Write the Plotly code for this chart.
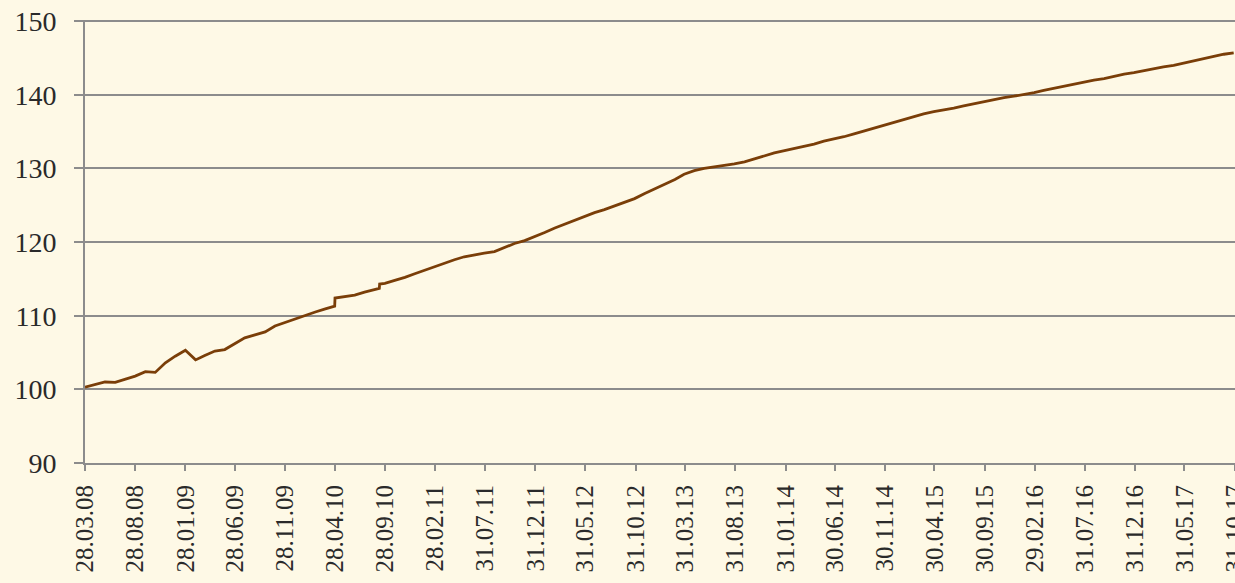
import pandas as pd
import plotly.graph_objects as go

# monthly index values (Mar 2008 .. Oct 2017)
months = pd.date_range("2008-03-01", periods=116, freq="MS") + pd.Timedelta(days=27)
index_vals = [
    100.3, 100.7, 101.0, 100.95, 101.4, 101.8, 102.4, 102.3, 103.6, 104.5,
    105.3, 104.0, 104.6, 105.2, 105.4, 106.2, 107.0, 107.4, 107.8, 108.6,
    109.1, 109.5, 110.0, 110.5, 110.9, 111.3, 112.6, 112.8, 113.2, 113.5,
    114.4, 114.8, 115.2, 115.7, 116.2, 116.7, 117.1, 117.6, 118.0, 118.3,
    118.5, 118.7, 119.3, 119.8, 120.2, 120.7, 121.3, 121.9, 122.4, 122.9,
    123.5, 124.0, 124.4, 124.9, 125.4, 125.9, 126.6, 127.2, 127.8, 128.5,
    129.2, 129.7, 130.0, 130.2, 130.4, 130.6, 130.9, 131.3, 131.7, 132.1,
    132.4, 132.7, 133.0, 133.3, 133.7, 134.0, 134.3, 134.7, 135.1, 135.5,
    135.9, 136.3, 136.7, 137.1, 137.4, 137.7, 137.9, 138.2, 138.5, 138.8,
    139.1, 139.3, 139.6, 139.8, 140.0, 140.3, 140.6, 140.9, 141.2, 141.5,
    141.7, 142.0, 142.2, 142.5, 142.8, 143.0, 143.3, 143.5, 143.8, 144.0,
    144.3, 144.6, 144.9, 145.2, 145.5, 145.7,
]

# the two step jumps in 2010
jump_dates = ["2010-04-29", "2010-09-11", "2010-09-12"]
jump_vals = [112.4, 113.7, 114.3]

tick_dates = [
    "2008-03-28", "2008-08-28", "2009-01-28", "2009-06-28", "2009-11-28",
    "2010-04-28", "2010-09-28", "2011-02-28", "2011-07-31", "2011-12-31",
    "2012-05-31", "2012-10-31", "2013-03-31", "2013-08-31", "2014-01-31",
    "2014-06-30", "2014-11-30", "2015-04-30", "2015-09-30", "2016-02-29",
    "2016-07-31", "2016-12-31", "2017-05-31", "2017-10-31",
]
tick_text = [
    "28.03.08", "28.08.08", "28.01.09", "28.06.09", "28.11.09",
    "28.04.10", "28.09.10", "28.02.11", "31.07.11", "31.12.11",
    "31.05.12", "31.10.12", "31.03.13", "31.08.13", "31.01.14",
    "30.06.14", "30.11.14", "30.04.15", "30.09.15", "29.02.16",
    "31.07.16", "31.12.16", "31.05.17", "31.10.17",
]

df = pd.concat([
    pd.DataFrame({"date": months, "value": index_vals}),
    pd.DataFrame({"date": pd.to_datetime(jump_dates), "value": jump_vals}),
]).sort_values("date")

bg = "#fef9e6"
grid = "#8c8c8c"

fig = go.Figure()
fig.add_trace(go.Scatter(x=df["date"], y=df["value"], mode="lines",
                         line=dict(color="#7a3e08", width=2.8),
                         showlegend=False))

fig.update_layout(
    width=1235, height=583,
    margin=dict(l=85, r=0, t=20, b=120),
    paper_bgcolor=bg, plot_bgcolor=bg,
    font=dict(family="Liberation Serif", size=28, color="#2a2a2a"),
)
fig.update_xaxes(
    type="date", range=["2008-03-28", "2017-11-01"], automargin=False,
    tickmode="array", tickvals=tick_dates, ticktext=tick_text,
    tickangle=-90, ticks="outside", ticklen=6, tickwidth=2, tickcolor=grid,
    tickfont=dict(size=25),
    showline=True, linecolor=grid, linewidth=2, showgrid=False,
    zeroline=False, ticklabelstandoff=4, ticklabeloverflow="allow",
)
fig.update_yaxes(
    range=[90, 150.15], tickvals=[90, 100, 110, 120, 130, 140, 150],
    automargin=False, ticklabeloverflow="allow",
    ticks="outside", ticklen=9, tickwidth=2, tickcolor=grid,
    showline=True, linecolor=grid, linewidth=2,
    showgrid=True, gridcolor=grid, gridwidth=2, zeroline=False,
    ticklabelstandoff=12,
)

# drop the default body margin so the figure sits flush in the window
fig.write_html("out.html", config={"displayModeBar": False},
               post_script="document.body.style.margin='0';document.body.style.overflow='hidden';")
